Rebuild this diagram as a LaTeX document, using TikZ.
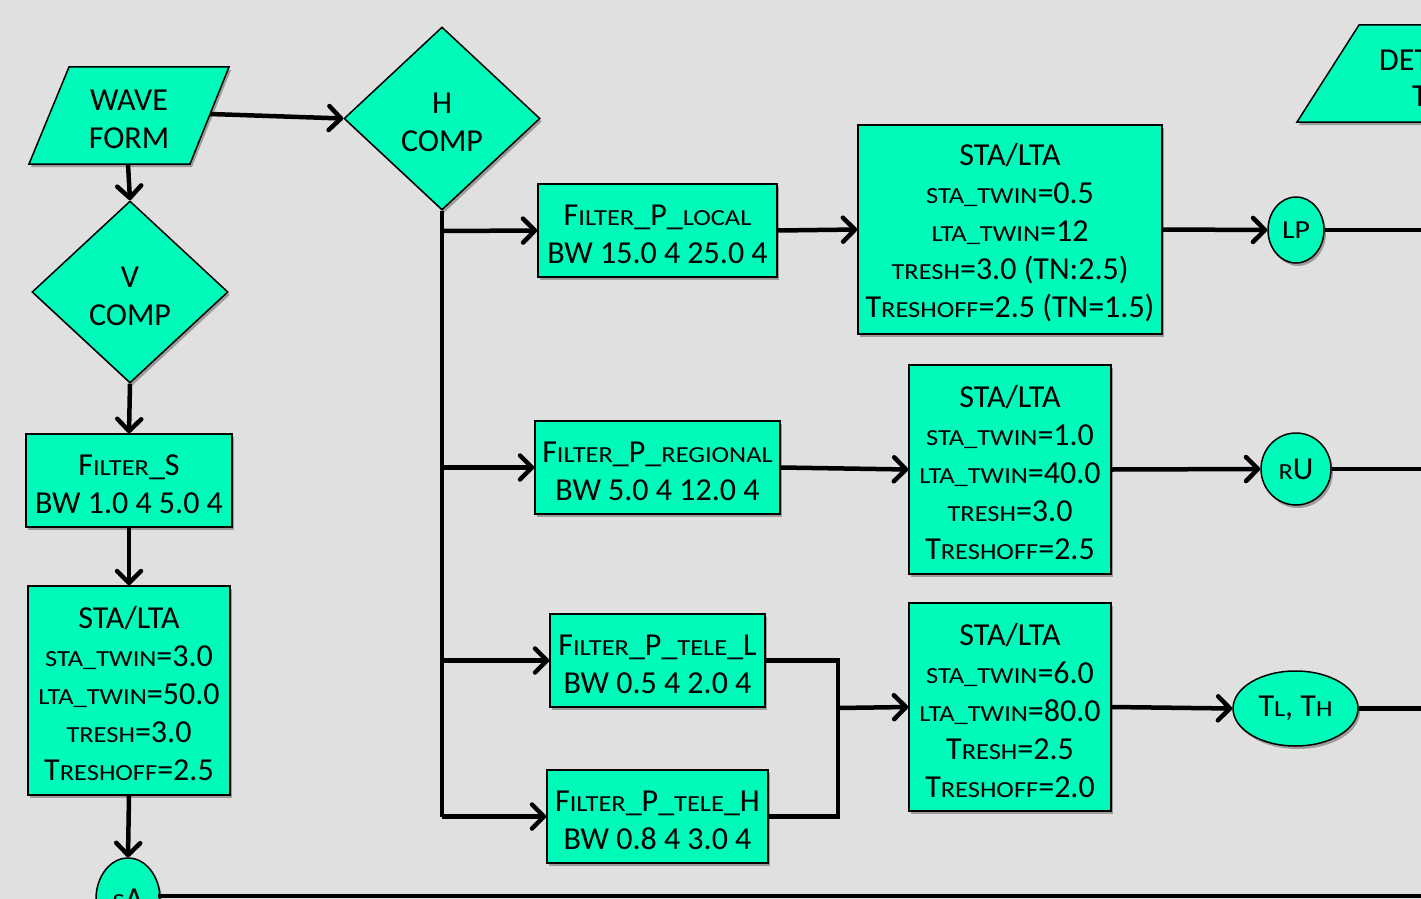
\documentclass[tikz,border=0pt]{standalone}
\usepackage{fontspec}
\setmainfont{Carlito}
\newfontfamily\scfont[FakeStretch=1.15]{Carlito}
\usetikzlibrary{shapes.geometric,arrows.meta,shadows}
\definecolor{bg}{RGB}{224,224,224}
\definecolor{aqua}{RGB}{0,250,186}
\newcommand\sm[1]{{\scfont\fontsize{23}{23}\selectfont #1}}
\newcommand\st{\rule{0pt}{29pt}}
\tikzset{
  base/.style={fill=aqua,draw=black,line width=1.5pt,inner sep=0pt,align=center,
    font=\fontsize{32}{38}\selectfont,
    drop shadow={shadow xshift=2pt,shadow yshift=-3pt,opacity=0.3,fill=black}},
  box/.style={base,rectangle},
  dia/.style={base,diamond},
  oval/.style={base,ellipse},
  conn/.style={line width=4.5pt,-{Straight Barb[length=12pt,width=24pt,line cap=round,line join=round]}},
  wire/.style={line width=4.5pt},
  label/.style={font=\fontsize{32}{38}\selectfont,inner sep=0pt,align=center}
}
\begin{document}
\begin{tikzpicture}[x=1pt,y=-1pt]
\useasboundingbox (0,0) rectangle (1421,899);
\clip (0,0) rectangle (1421,899);
\fill[bg] (0,0) rectangle (1421,899);

% DET shape (cut at right edge)
\filldraw[fill=aqua,draw=black,line width=1.5pt,
  drop shadow={shadow xshift=2pt,shadow yshift=-3pt,opacity=0.3,fill=black}]
  (1359,25) -- (1440,25) -- (1440,122) -- (1297,122) -- cycle;
\node[label,anchor=west] (det1) at (1379,60) {DET};
\node[label,anchor=west] (det2) at (1412,96) {T};

% WAVE FORM parallelogram
\filldraw[fill=aqua,draw=black,line width=1.5pt,
  drop shadow={shadow xshift=2pt,shadow yshift=-3pt,opacity=0.3,fill=black}]
  (69,67) -- (229,67) -- (190,164) -- (29,164) -- cycle;
\node[label] (wave) at (129,119) {WAVE\\FORM};
\coordinate (waveR) at (210,114);
\coordinate (waveB) at (128,164);

% diamonds
\node[dia,minimum width=196pt,minimum height=183pt] (hc) at (442,118.5) {\st H\\COMP};
\node[dia,minimum width=196pt,minimum height=182pt] (vc) at (130,292) {\st V\\COMP};

% left column
\node[box,minimum width=206pt,minimum height=93pt] (fs) at (129,480.5)
  {\st F\sm{ILTER}\_S\\BW 1.0 4 5.0 4};
\node[box,minimum width=202pt,minimum height=209pt] (sl) at (129,690.5)
  {\st STA/LTA\\\sm{STA\_TWIN}=3.0\\\sm{LTA\_TWIN}=50.0\\\sm{TRESH}=3.0\\T\sm{RESHOFF}=2.5};
\node[oval,minimum width=64pt,minimum height=82pt] (sa) at (128,899) {\sm{S}A};
\coordinate (saR) at (158,896);
\coordinate (saEnd) at (1421,896);

% filters
\node[box,minimum width=239pt,minimum height=93pt] (fpl) at (657.5,230.5)
  {\st F\sm{ILTER}\_P\_\sm{LOCAL}\\BW 15.0 4 25.0 4};
\node[box,minimum width=245pt,minimum height=93pt] (fpr) at (657.5,467.5)
  {\st F\sm{ILTER}\_P\_\sm{REGIONAL}\\BW 5.0 4 12.0 4};
\node[box,minimum width=215pt,minimum height=93pt] (ftl) at (657.5,660.5)
  {\st F\sm{ILTER}\_P\_\sm{TELE}\_L\\BW 0.5 4 2.0 4};
\node[box,minimum width=221pt,minimum height=93pt] (fth) at (657.5,816.5)
  {\st F\sm{ILTER}\_P\_\sm{TELE}\_H\\BW 0.8 4 3.0 4};

% STA/LTA boxes
\node[box,minimum width=304pt,minimum height=209pt] (s1) at (1010,229.5)
  {\st STA/LTA\\\sm{STA\_TWIN}=0.5\\\sm{LTA\_TWIN}=12\\\sm{TRESH}=3.0 (TN:2.5)\\T\sm{RESHOFF}=2.5 (TN=1.5)};
\node[box,minimum width=202pt,minimum height=209pt] (s2) at (1010,469.5)
  {\st STA/LTA\\\sm{STA\_TWIN}=1.0\\\sm{LTA\_TWIN}=40.0\\\sm{TRESH}=3.0\\T\sm{RESHOFF}=2.5};
\node[box,minimum width=202pt,minimum height=208pt] (s3) at (1010,707)
  {\st STA/LTA\\\sm{STA\_TWIN}=6.0\\\sm{LTA\_TWIN}=80.0\\T\sm{RESH}=2.5\\T\sm{RESHOFF}=2.0};

% outputs
\node[oval,minimum width=56pt,minimum height=66pt] (lp) at (1296,230)
  {{\scfont\fontsize{26}{26}\selectfont LP}};
\node[oval,minimum width=70pt,minimum height=72pt] (ru) at (1296,469) {\sm{R}U};
\node[oval,minimum width=125pt,minimum height=75pt] (tt) at (1295.5,708.5) {T\sm{L}, T\sm{H}};
\coordinate (lpEnd) at (1421,230);
\coordinate (ruEnd) at (1421,469);
\coordinate (ttEnd) at (1421,708.5);

% junction coordinates
\coordinate (j1) at (442,231);
\coordinate (j2) at (442,467.5);
\coordinate (j3) at (442,660.5);
\coordinate (j4) at (442,816.5);
\coordinate (k1) at (838,660.5);
\coordinate (k2) at (838,816.5);
\coordinate (k3) at (838,708);

% connectors
\draw[conn] (waveR) -- (hc.west);
\draw[conn] (waveB) -- (vc.north);
\draw[conn] (vc.south) -- (fs.north);
\draw[conn] (fs.south) -- (sl.north);
\draw[conn] (sl.south) -- (sa.north);
\draw[wire] (saR) -- (saEnd);

\draw[wire] (hc.south) -- (j4);
\draw[conn] (j1) -- (fpl.west);
\draw[conn] (j2) -- (fpr.west);
\draw[conn] (j3) -- (ftl.west);
\draw[conn] (j4) -- (fth.west);

\draw[conn] (fpl.east) -- (s1.west);
\draw[conn] (fpr.east) -- (s2.west);
\draw[wire,line join=miter] (ftl.east) -- (k1) -- (k2) -- (fth.east);
\draw[conn] (k3) -- (s3.west);

\draw[conn] (s1.east) -- (lp.west);
\draw[conn] (s2.east) -- (ru.west);
\draw[conn] (s3.east) -- (tt.west);

\draw[wire] (lp.east) -- (lpEnd);
\draw[wire] (ru.east) -- (ruEnd);
\draw[wire] (tt.east) -- (ttEnd);
\end{tikzpicture}
\end{document}
